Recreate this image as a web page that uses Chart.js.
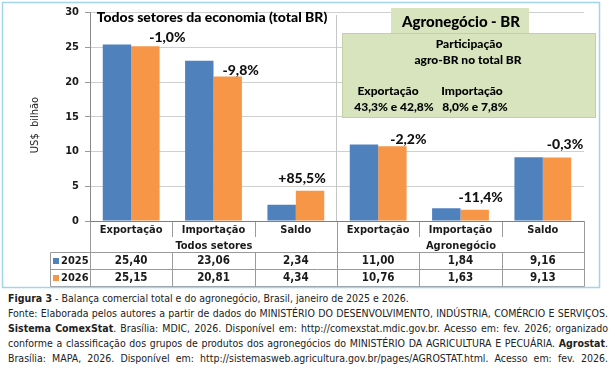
<!DOCTYPE html>
<html lang="pt-BR">
<head>
<meta charset="utf-8">
<script src="https://cdn.jsdelivr.net/npm/chart.js@4"></script>
<style>
    body { margin: 0; background: #fff; }
    #grafico { display: block; }
    .legenda { position: absolute; left: 8px; top: 291px; width: 600px; font-family: "DejaVu Sans Condensed", "DejaVu Sans", sans-serif; font-size: 10.5px; line-height: 15px; color: #222; }
    .legenda p { margin: 0; white-space: nowrap; }
    .legenda p.j { text-align: justify; text-align-last: justify; }
</style>
</head>
<body>
<canvas id="grafico" width="615" height="290"></canvas>
<div class="legenda">
    <p><b>Figura 3</b> - Balança comercial total e do agronegócio, Brasil, janeiro de 2025 e 2026.</p>
    <p class="j">Fonte: Elaborada pelos autores a partir de dados do MINISTÉRIO DO DESENVOLVIMENTO, INDÚSTRIA, COMÉRCIO E SERVIÇOS.</p>
    <p class="j"><b>Sistema ComexStat</b>. Brasília: MDIC, 2026. Disponível em: http://comexstat.mdic.gov.br. Acesso em: fev. 2026; organizado</p>
    <p class="j">conforme a classificação dos grupos de produtos dos agronegócios do MINISTÉRIO DA AGRICULTURA E PECUÁRIA. <b>Agrostat</b>.</p>
    <p class="j">Brasília: MAPA, 2026. Disponível em: http://sistemasweb.agricultura.gov.br/pages/AGROSTAT.html. Acesso em: fev. 2026.</p>
</div>
<script>
// dados do grafico (US$ bilhão, janeiro)
const categorias = ['Exportação', 'Importação', 'Saldo', 'Exportação', 'Importação', 'Saldo'];
const grupos = ['Todos setores', 'Agronegócio'];
const anos = ['2025', '2026'];
const valores2025 = [25.40, 23.06, 2.34, 11.00, 1.84, 9.16];
const valores2026 = [25.15, 20.81, 4.34, 10.76, 1.63, 9.13];
const variacoes = ['-1,0%', '-9,8%', '+85,5%', '-2,2%', '-11,4%', '-0,3%'];

// ajuste fino da posição dos rótulos de variação (em px, relativo à barra de 2026)
const ajusteRotulo = [[22, -9], [13, -6], [-8, -12], [16, -7], [6, -12], [8, -13]];

const azul = '#4f81bd';
const laranja = '#f79646';
const fonteTabela = '"DejaVu Sans Condensed", "DejaVu Sans", sans-serif';
const fonteTitulo = 'Lato, "Open Sans", sans-serif';

// formata o número com vírgula, igual na tabela do original
function formataValor(valor) {
    return valor.toFixed(2).replace('.', ',');
}

function texto(ctx, t, x, y, fonte, align) {
    ctx.font = fonte;
    ctx.textAlign = align || 'center';
    ctx.textBaseline = 'middle';
    ctx.fillText(t, x, y);
}

// caixa verde, titulos e linha que separa os dois grupos
const pluginFundo = {
    id: 'fundo',
    beforeDatasetsDraw(chart) {
        const ctx = chart.ctx;
        const area = chart.chartArea;
        const x = chart.scales.x;
        const larg = (area.right - area.left) / categorias.length;

        ctx.save();
        // separador entre "Todos setores" e "Agronegócio"
        const xSep = Math.round(x.getPixelForValue(3) - larg / 2) - 0.5;
        ctx.strokeStyle = '#c6c6c6';
        ctx.lineWidth = 1;
        ctx.beginPath();
        ctx.moveTo(xSep, 15);
        ctx.lineTo(xSep, area.bottom);
        ctx.stroke();

        // caixa do agronegócio
        ctx.fillStyle = '#d7e4bd';
        ctx.fillRect(391, 8, 138, 26);
        ctx.fillRect(342, 33, 254, 85);
        ctx.strokeStyle = '#c3cfa9';
        ctx.strokeRect(342.5, 33.5, 253, 84);

        ctx.fillStyle = '#000';
        texto(ctx, 'Agronegócio - BR', 461, 22, '900 15px ' + fonteTitulo);
        texto(ctx, 'Participação', 469, 44, '900 12px ' + fonteTitulo);
        texto(ctx, 'agro-BR no total BR', 468, 60, '900 12px ' + fonteTitulo);
        texto(ctx, 'Exportação', 388, 91, '900 12px ' + fonteTitulo);
        texto(ctx, '43,3% e 42,8%', 394, 107, '900 12px ' + fonteTitulo);
        texto(ctx, 'Importação', 472, 91, '900 12px ' + fonteTitulo);
        texto(ctx, '8,0% e 7,8%', 475, 107, '900 12px ' + fonteTitulo);

        texto(ctx, 'Todos setores da economia (total BR)', 212, 17, '900 14px ' + fonteTitulo);

        // titulo do eixo y
        ctx.save();
        ctx.translate(35, 125);
        ctx.rotate(-Math.PI / 2);
        ctx.fillStyle = '#222';
        texto(ctx, 'US$  bilhão', 0, 0, '11px ' + fonteTabela);
        ctx.restore();
        ctx.restore();
    },
    afterDatasetsDraw(chart) {
        const ctx = chart.ctx;
        const area = chart.chartArea;
        const x = chart.scales.x;
        const larg = (area.right - area.left) / categorias.length;
        const barras = chart.getDatasetMeta(1).data;

        ctx.save();
        // rótulos de variação 2026/2025
        ctx.fillStyle = '#111';
        barras.forEach((barra, i) => {
            texto(ctx, variacoes[i], barra.x + ajusteRotulo[i][0], barra.y + ajusteRotulo[i][1], '900 14px ' + fonteTitulo);
        });

        // tabela de dados abaixo do eixo
        const y0 = Math.round(area.bottom) + 0.5;
        const yCat = y0 + 15.5;
        const yLinha1 = 252.5;
        const yLinha2 = 269.5;
        const yFim = 286.5;
        const xIni = 50.5;
        const bordas = [];
        for (let i = 0; i <= categorias.length; i++) {
            bordas.push(Math.round(area.left + i * larg) + 0.5);
        }

        ctx.strokeStyle = '#9a9a9a';
        ctx.lineWidth = 1;
        ctx.beginPath();
        // linhas verticais
        bordas.forEach((bx, i) => {
            let topo = yLinha1;
            if (i === 0 || i === categorias.length || i === 3) topo = y0;
            else {
                ctx.moveTo(bx, y0);
                ctx.lineTo(bx, yCat);
            }
            ctx.moveTo(bx, topo);
            ctx.lineTo(bx, yFim);
        });
        ctx.moveTo(xIni, yLinha1);
        ctx.lineTo(xIni, yFim);
        // linhas horizontais
        [yLinha1, yLinha2, yFim].forEach(yy => {
            ctx.moveTo(xIni, yy);
            ctx.lineTo(bordas[bordas.length - 1], yy);
        });
        ctx.stroke();

        // eixo x
        ctx.strokeStyle = '#7f7f7f';
        ctx.beginPath();
        ctx.moveTo(bordas[0], y0);
        ctx.lineTo(bordas[bordas.length - 1], y0);
        ctx.stroke();

        ctx.fillStyle = '#1a1a1a';
        categorias.forEach((c, i) => {
            const cx = x.getPixelForValue(i);
            texto(ctx, c, cx, y0 + 8.5, 'bold 11px ' + fonteTabela);
            texto(ctx, formataValor(valores2025[i]), cx, (yLinha1 + yLinha2) / 2 + 0.5, 'bold 11.5px ' + fonteTabela);
            texto(ctx, formataValor(valores2026[i]), cx, (yLinha2 + yFim) / 2 + 0.5, 'bold 11.5px ' + fonteTabela);
        });
        grupos.forEach((g, i) => {
            const cx = (bordas[i * 3] + bordas[i * 3 + 3]) / 2;
            texto(ctx, g, cx, y0 + 24.5, 'bold 11px ' + fonteTabela);
        });

        // legenda dentro da tabela
        [[anos[0], azul, yLinha1, yLinha2], [anos[1], laranja, yLinha2, yFim]].forEach(([ano, cor, a, b]) => {
            const cy = (a + b) / 2;
            ctx.fillStyle = cor;
            ctx.fillRect(53, cy - 3, 6, 6);
            ctx.fillStyle = '#1a1a1a';
            texto(ctx, ano, 61, cy + 0.5, 'bold 11px ' + fonteTabela, 'left');
        });

        // moldura azul clara
        ctx.strokeStyle = '#a3d4e8';
        ctx.lineWidth = 1.5;
        ctx.strokeRect(2.5, 2.5, 597, 285);
        ctx.restore();
    }
};

new Chart(document.getElementById('grafico'), {
    type: 'bar',
    data: {
        labels: categorias,
        datasets: [
            { label: anos[0], data: valores2025, backgroundColor: azul },
            { label: anos[1], data: valores2026, backgroundColor: laranja }
        ]
    },
    options: {
        responsive: false,
        animation: false,
        layout: { padding: { left: 0, right: 31, top: 7, bottom: 69 } },
        datasets: { bar: { categoryPercentage: 0.69, barPercentage: 1 } },
        plugins: { legend: { display: false }, tooltip: { enabled: false } },
        scales: {
            x: { display: false },
            y: {
                min: 0,
                max: 30,
                ticks: { stepSize: 5, padding: 6, color: '#1a1a1a', font: { family: fonteTabela, size: 11, weight: 'bold' } },
                grid: { color: '#cfcfcf', tickLength: 5, tickColor: '#9a9a9a' },
                border: { color: '#8a8a8a' },
                afterFit(scale) { scale.width = 90; }
            }
        }
    },
    plugins: [pluginFundo]
});
</script>
</body>
</html>
